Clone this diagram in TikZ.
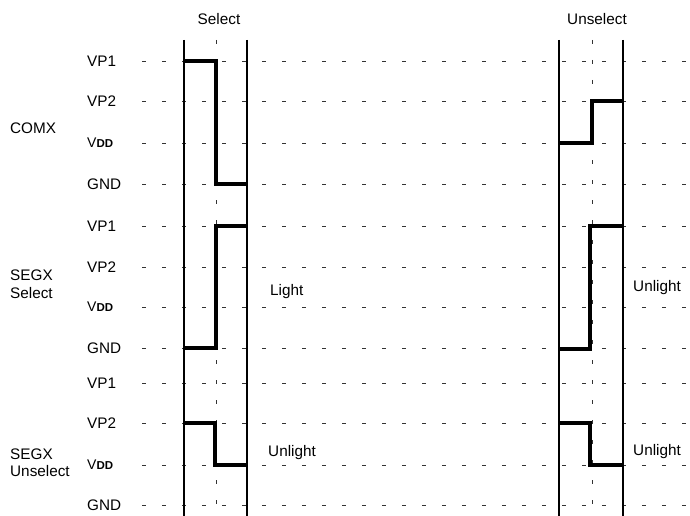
\documentclass[tikz,border=0pt]{standalone}
\usepackage{fontspec}
\setmainfont{Liberation Sans}
\usepackage{tikz}
\usetikzlibrary{positioning}

\newcommand{\vdd}{{\fontsize{14}{16}\selectfont V\fontsize{11.5}{13}\selectfont\bfseries DD}}

\begin{document}
\begin{tikzpicture}[x=1pt, y=-1pt,
	lbl/.style={draw=none, text=black, inner sep=0pt, font=\fontsize{15.3}{18}\selectfont},
	grid/.style={black!80, line width=0.7pt, dash pattern=on 4pt off 16pt},
	bar/.style={black, line width=1.6pt},
	wave/.style={black, line width=3.2pt}]
	\useasboundingbox (0,0) rectangle (690,516);

	\pgfmathsetmacro{\selL}{184}
	\pgfmathsetmacro{\selM}{216}
	\pgfmathsetmacro{\selR}{247}
	\pgfmathsetmacro{\unsL}{559}
	\pgfmathsetmacro{\unsM}{592}
	\pgfmathsetmacro{\unsR}{623}

	% level lines
	\draw[grid] (142,61) -- (690,61);
	\draw[grid] (142,101) -- (690,101);
	\draw[grid] (142,143) -- (690,143);
	\draw[grid] (142,184) -- (690,184);
	\draw[grid] (142,226) -- (690,226);
	\draw[grid] (142,267) -- (690,267);
	\draw[grid] (142,307) -- (690,307);
	\draw[grid] (142,348) -- (690,348);
	\draw[grid] (142,383) -- (690,383);
	\draw[grid] (142,423) -- (690,423);
	\draw[grid] (142,465) -- (690,465);
	\draw[grid] (142,505) -- (690,505);

	% frame borders
	\draw[bar] (\selL,40) -- (\selL,516);
	\draw[bar] (\selR,40) -- (\selR,516);
	\draw[grid] (\selM,40) -- (\selM,516);
	\draw[bar] (\unsL,40) -- (\unsL,516);
	\draw[bar] (\unsR,40) -- (\unsR,516);
	\draw[grid] (\unsM,40) -- (\unsM,516);

	\node[lbl] (hdSel) at (219,19) {Select};
	\node[lbl] (hdUns) at (597,19) {Unselect};

	\node[lbl, anchor=west] (comx) at (10,128) {COMX};
	\node[lbl, anchor=west, align=left] (segSel) at (10,284) {SEGX\\[0pt]Select};
	\node[lbl, anchor=west, align=left] (segUns) at (10,463) {SEGX\\[-1pt]Unselect};

	\node[lbl, anchor=west] (vpA1) at (87,61) {VP1};
	\node[lbl, anchor=west] (vpA2) at (87,101) {VP2};
	\node[lbl, anchor=west] (vddA) at (87,143) {\vdd};
	\node[lbl, anchor=west] (gndA) at (87,184) {GND};
	\node[lbl, anchor=west] (vpB1) at (87,226) {VP1};
	\node[lbl, anchor=west] (vpB2) at (87,267) {VP2};
	\node[lbl, anchor=west] (vddB) at (87,307) {\vdd};
	\node[lbl, anchor=west] (gndB) at (87,348) {GND};
	\node[lbl, anchor=west] (vpC1) at (87,383) {VP1};
	\node[lbl, anchor=west] (vpC2) at (87,423) {VP2};
	\node[lbl, anchor=west] (vddC) at (87,465) {\vdd};
	\node[lbl, anchor=west] (gndC) at (87,505) {GND};

	\node[lbl, anchor=west] (light) at (270,292) {Light};
	\node[lbl, anchor=west] (unlightA) at (268,453) {Unlight};
	\node[lbl, anchor=west] (unlightB) at (633,288) {Unlight};
	\node[lbl, anchor=west] (unlightC) at (633,452) {Unlight};

	% waveforms
	\draw[wave] (\selL,61) -- (\selM,61) -- (\selM,184) -- (\selR,184);
	\draw[wave] (\unsL,143) -- (\unsM,143) -- (\unsM,101) -- (\unsR,101);
	\draw[wave] (\selL,348) -- (\selM,348) -- (\selM,226) -- (\selR,226);
	\draw[wave] (\unsL,349) -- (590,349) -- (590,226) -- (\unsR,226);
	\draw[wave] (\selL,423) -- (215,423) -- (215,465) -- (\selR,465);
	\draw[wave] (\unsL,423) -- (590,423) -- (590,465) -- (\unsR,465);
\end{tikzpicture}
\end{document}
